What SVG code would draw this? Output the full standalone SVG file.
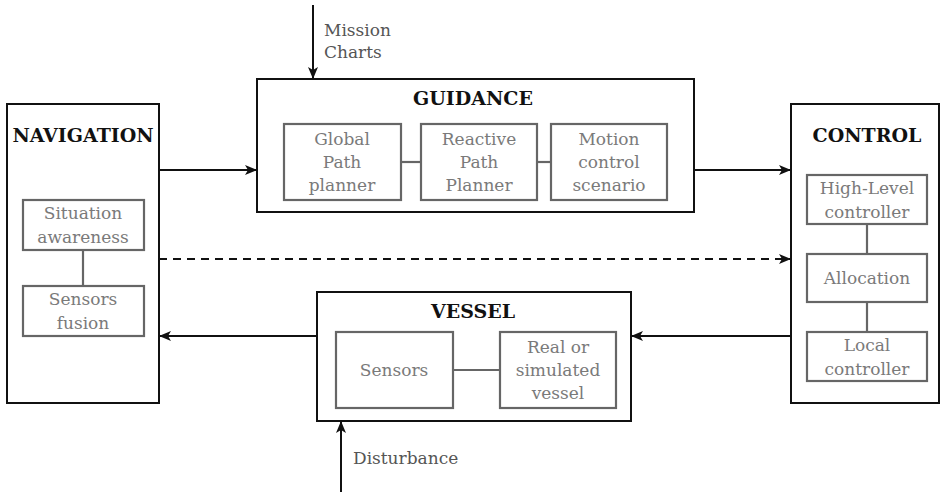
<svg xmlns="http://www.w3.org/2000/svg" width="941" height="495" viewBox="0 0 941 495">
<style>
.outer{fill:#fff;stroke:#111;stroke-width:2}
.inner{fill:#fff;stroke:#666;stroke-width:2.2}
.link{stroke:#666;stroke-width:2.2;fill:none}
.title{font-family:"DejaVu Serif",serif;font-weight:bold;font-size:19px;fill:#111;text-anchor:middle}
.sub{font-family:"DejaVu Serif",serif;font-size:17px;fill:#7a7a7a;text-anchor:middle}
.lbl{font-family:"DejaVu Serif",serif;font-size:17px;fill:#555}
.arr{stroke:#111;stroke-width:2;fill:none}
</style>
<defs>
<marker id="ah" viewBox="0 0 12 12" refX="11" refY="6" markerWidth="12" markerHeight="12" markerUnits="userSpaceOnUse" orient="auto">
<path d="M0,1 L12,6 L0,11 L3,6 Z" fill="#111"/>
</marker>
</defs>
<g id="navigation">
<rect class="outer" x="7" y="104" width="152" height="299"/>
<text class="title" x="83" y="142">NAVIGATION</text>
<rect class="inner" x="23" y="200" width="121" height="50"/>
<text class="sub" x="83" y="219">Situation</text>
<text class="sub" x="83" y="243">awareness</text>
<line class="link" x1="83" y1="250" x2="83" y2="286"/>
<rect class="inner" x="23" y="286" width="121" height="50"/>
<text class="sub" x="83" y="305">Sensors</text>
<text class="sub" x="83" y="329">fusion</text>
</g>
<g id="guidance">
<rect class="outer" x="257" y="79" width="437" height="133"/>
<text class="title" x="473" y="105">GUIDANCE</text>
<rect class="inner" x="284" y="124" width="117" height="76"/>
<text class="sub" x="342" y="145">Global</text>
<text class="sub" x="342" y="168">Path</text>
<text class="sub" x="342" y="191">planner</text>
<line class="link" x1="401" y1="162" x2="421" y2="162"/>
<rect class="inner" x="421" y="124" width="116" height="76"/>
<text class="sub" x="479" y="145">Reactive</text>
<text class="sub" x="479" y="168">Path</text>
<text class="sub" x="479" y="191">Planner</text>
<line class="link" x1="537" y1="162" x2="551" y2="162"/>
<rect class="inner" x="551" y="124" width="116" height="76"/>
<text class="sub" x="609" y="145">Motion</text>
<text class="sub" x="609" y="168">control</text>
<text class="sub" x="609" y="191">scenario</text>
</g>
<g id="control">
<rect class="outer" x="791" y="104" width="148" height="299"/>
<text class="title" x="867" y="142">CONTROL</text>
<rect class="inner" x="807" y="175" width="120" height="49"/>
<text class="sub" x="867" y="194">High-Level</text>
<text class="sub" x="867" y="218">controller</text>
<line class="link" x1="867" y1="224" x2="867" y2="254"/>
<rect class="inner" x="807" y="254" width="120" height="48"/>
<text class="sub" x="867" y="284">Allocation</text>
<line class="link" x1="867" y1="302" x2="867" y2="332"/>
<rect class="inner" x="807" y="332" width="120" height="49"/>
<text class="sub" x="867" y="351">Local</text>
<text class="sub" x="867" y="375">controller</text>
</g>
<g id="vessel">
<rect class="outer" x="317" y="292" width="314" height="129"/>
<text class="title" x="473" y="318">VESSEL</text>
<rect class="inner" x="336" y="332" width="117" height="76"/>
<text class="sub" x="394" y="376">Sensors</text>
<line class="link" x1="453" y1="370" x2="500" y2="370"/>
<rect class="inner" x="500" y="332" width="116" height="76"/>
<text class="sub" x="558" y="353">Real or</text>
<text class="sub" x="558" y="376">simulated</text>
<text class="sub" x="558" y="399">vessel</text>
</g>
<g id="connectors">
<line class="arr" x1="313" y1="5" x2="313" y2="78" marker-end="url(#ah)"/>
<line class="arr" x1="159" y1="170" x2="256" y2="170" marker-end="url(#ah)"/>
<line class="arr" x1="694" y1="170" x2="790" y2="170" marker-end="url(#ah)"/>
<line class="arr" x1="159" y1="259" x2="790" y2="259" stroke-dasharray="8,6" marker-end="url(#ah)"/>
<line class="arr" x1="791" y1="336" x2="632" y2="336" marker-end="url(#ah)"/>
<line class="arr" x1="317" y1="336" x2="160" y2="336" marker-end="url(#ah)"/>
<line class="arr" x1="341" y1="492" x2="341" y2="422" marker-end="url(#ah)"/>
<text class="lbl" x="324" y="36">Mission</text>
<text class="lbl" x="324" y="58">Charts</text>
<text class="lbl" x="353" y="464">Disturbance</text>
</g>
</svg>
